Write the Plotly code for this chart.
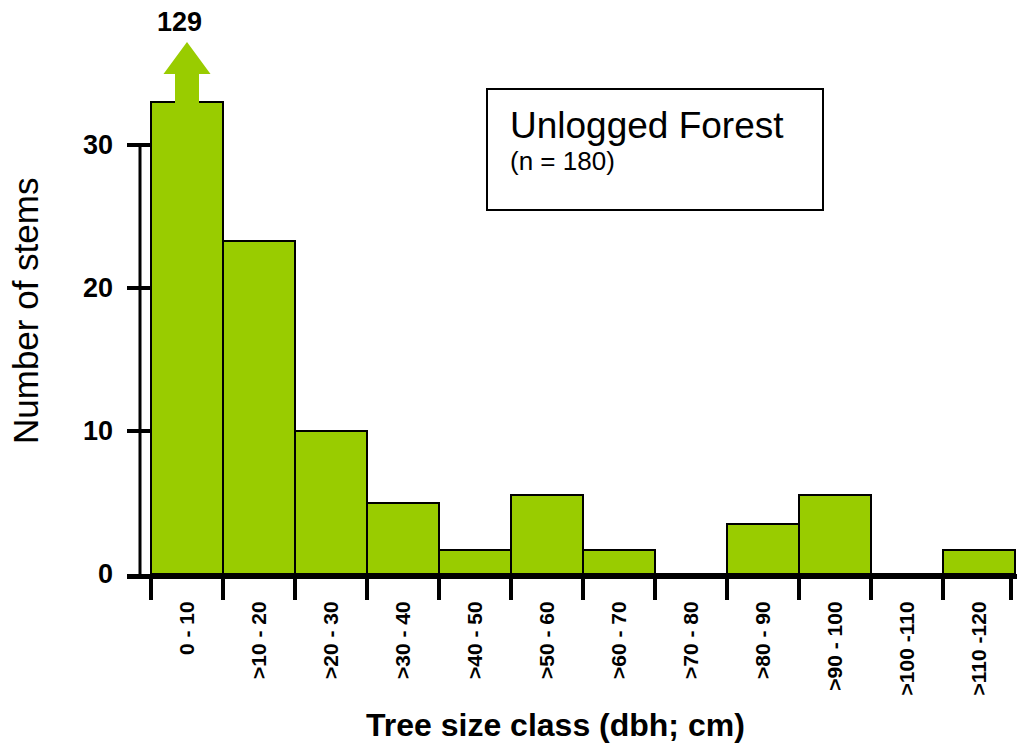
import plotly.graph_objects as go

categories = ["0 - 10", ">10 - 20", ">20 - 30", ">30 - 40", ">40 - 50", ">50 - 60",
              ">60 - 70", ">70 - 80", ">80 - 90", ">90 - 100", ">100 -110", ">110 -120"]
stems = [33, 23.3, 10, 5, 1.7, 5.5, 1.7, 0, 3.5, 5.5, 0, 1.7]
first_class_true_count = 129
y_ticks = [0, 10, 20, 30]
legend_title = "Unlogged Forest"
legend_sub = "(n = 180)"

GREEN = "#99CC00"
FONT = "Arial, Liberation Sans, sans-serif"

W, H = 1017, 747
PL, PB, PT, PR = 127, 574, 8, 1017      # plot area edges in page pixels
L, R, T, B = PL, W - PR, PT, H - PB
plot_w = PR - PL
plot_h = PB - PT
px_per_unit_x = 72.0
px_per_unit_y = (574 - 145) / 30.0
x_lo = -0.5 - 24 / px_per_unit_x
x_hi = x_lo + plot_w / px_per_unit_x
y_hi = plot_h / px_per_unit_y


def px(x):
    return (x - PL) / plot_w


def py(y):
    return (PB - y) / plot_h


idx = list(range(len(categories)))
bounds = [i - 0.5 for i in idx] + [idx[-1] + 0.45]

fig = go.Figure()
fig.add_trace(go.Bar(
    x=idx, y=stems, width=1.0,
    marker=dict(color=GREEN, line=dict(color="black", width=2)),
    showlegend=False, cliponaxis=False, hoverinfo="skip",
))

# Arrow indicating the truncated first bar (true value 129)
cx = idx[0]
top = stems[0]
sh = 12 / px_per_unit_x
hh = 23.5 / px_per_unit_x
y_base = top - 2 / px_per_unit_y
y_shaft = top + 28 / px_per_unit_y
y_head = top + 60 / px_per_unit_y
path = (f"M {cx - sh},{y_base} L {cx - sh},{y_shaft} L {cx - hh},{y_shaft} "
        f"L {cx},{y_head} L {cx + hh},{y_shaft} L {cx + sh},{y_shaft} L {cx + sh},{y_base} Z")
fig.add_shape(type="path", path=path, xref="x", yref="y", fillcolor=GREEN,
              line=dict(width=0), layer="above")
fig.add_annotation(x=cx - 0.1, y=top + 80 / px_per_unit_y, xref="x", yref="y",
                   text=f"<b>{first_class_true_count}</b>", showarrow=False,
                   xanchor="center", yanchor="middle",
                   font=dict(family=FONT, size=27, color="black"))

# Vertical y-axis line (0 to 30)
fig.add_shape(type="line", xref="paper", yref="y", x0=px(140), x1=px(140),
              y0=y_ticks[0], y1=y_ticks[-1], line=dict(color="black", width=3), layer="above")

# Legend box
fig.add_shape(type="rect", xref="paper", yref="paper",
              x0=px(487), x1=px(823), y0=py(210), y1=py(89),
              line=dict(color="black", width=2), fillcolor="white", layer="above")
fig.add_annotation(x=px(508), y=py(125), xref="paper", yref="paper",
                   text=legend_title, showarrow=False, xanchor="left", yanchor="middle",
                   font=dict(family=FONT, size=37, color="black"))
fig.add_annotation(x=px(508), y=py(161), xref="paper", yref="paper",
                   text=legend_sub, showarrow=False, xanchor="left", yanchor="middle",
                   font=dict(family=FONT, size=26, color="black"))

# Axis titles
fig.add_annotation(x=px(555), y=py(725), xref="paper", yref="paper",
                   text="<b>Tree size class (dbh; cm)</b>", showarrow=False,
                   xanchor="center", yanchor="middle",
                   font=dict(family=FONT, size=32, color="black"))
fig.add_annotation(x=px(25), y=py(311), xref="paper", yref="paper",
                   text="Number of stems", showarrow=False, textangle=-90,
                   xanchor="center", yanchor="middle",
                   font=dict(family=FONT, size=35, color="black"))

fig.update_layout(
    width=W, height=H,
    margin=dict(l=L, r=R, t=T, b=B, pad=0),
    paper_bgcolor="white", plot_bgcolor="white",
    bargap=0,
    xaxis=dict(
        range=[x_lo, x_hi], showgrid=False, zeroline=False,
        showline=True, linecolor="black", linewidth=5,
        tickmode="array", tickvals=idx, ticktext=[f"<b>{c}</b>" for c in categories],
        ticks="", tickangle=-90, ticklabelstandoff=14,
        tickfont=dict(family=FONT, size=21, color="black"),
        minor=dict(tickmode="array", tickvals=bounds, ticks="outside",
                   ticklen=21, tickwidth=4, tickcolor="black", showgrid=False),
    ),
    yaxis=dict(
        range=[0, y_hi], showgrid=False, zeroline=False, showline=False,
        tickmode="array", tickvals=y_ticks, ticktext=[f"<b>{v}</b>" for v in y_ticks],
        ticks="inside", ticklen=24, tickwidth=4, tickcolor="black",
        tickfont=dict(family=FONT, size=27, color="black"),
        ticklabelstandoff=13,
    ),
)

fig.write_html("out.html", config={"displayModeBar": False},
               post_script="document.body.style.margin='0';document.body.style.overflow='hidden';")
